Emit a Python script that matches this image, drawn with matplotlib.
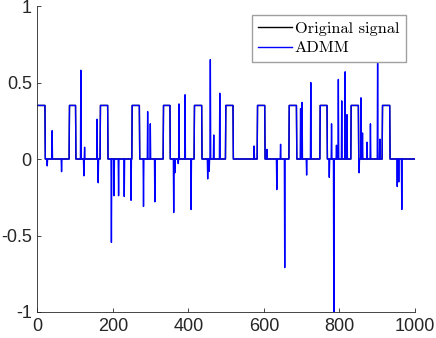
import numpy as np
import matplotlib
matplotlib.use("Agg")
import matplotlib.pyplot as plt

# ---- data ----
n_samples = 1000
block_starts = [0, 84, 166, 250, 333, 415, 498, 582, 666, 748, 830, 913]
block_ends = [20, 101, 186, 270, 351, 435, 518, 602, 686, 767, 850, 933]
block_level = 0.35

spike_idx = [26, 39, 64, 115, 123, 125, 158, 161, 196, 203, 215, 230, 248,
             281, 292, 299, 311, 361, 364, 373, 375, 391, 407, 451, 455, 458,
             467, 483, 574, 608, 634, 644, 655, 697, 701, 713, 724, 773, 779,
             785, 792, 797, 806, 815, 820, 852, 857, 861, 873, 882, 901, 907,
             953, 957, 965]
spike_val = [-0.045, 0.185, -0.083, 0.58, -0.11, 0.077, 0.26, -0.155, -0.545,
             -0.24, -0.24, -0.245, -0.27, -0.31, 0.31, 0.23, -0.28, -0.35,
             -0.09, -0.03, 0.36, 0.42, -0.33, -0.13, -0.08, 0.65, 0.157, 0.43,
             0.085, 0.063, -0.2, 0.096, -0.71, 0.33, 0.37, -0.105, 0.5, -0.12,
             0.23, -1.0, 0.09, 0.52, 0.38, 0.57, 0.29, -0.09, 0.40, 0.17, 0.11,
             0.23, 0.68, 0.13, -0.18, -0.15, -0.33]

x_ticks = [0, 200, 400, 600, 800, 1000]
y_ticks = [-1, -0.5, 0, 0.5, 1]
y_tick_labels = ['-1', '-0.5', '0', '0.5', '1']

# ---- build signals ----
x = np.arange(1, n_samples + 1)
original = np.zeros(n_samples)
for s, e in zip(block_starts, block_ends):
    original[(x > s) & (x <= e)] = block_level
admm = original.copy()
for i, v in zip(spike_idx, spike_val):
    admm[i - 1] = v

# ---- figure ----
fig = plt.figure(figsize=(4.36, 3.38), dpi=100)
ax = fig.add_axes([37.4 / 436, 1 - 312 / 338, (415 - 37.4) / 436, (312 - 6) / 338])

ax.plot(x, original, color='black', lw=1.0, label='Original signal')
ax.plot(x, admm, color='blue', lw=1.0, label='ADMM')

ax.set_xlim(0, 1000)
ax.set_ylim(-1, 1)
ax.set_xticks(x_ticks)
ax.set_xticklabels([str(t) for t in x_ticks])
ax.set_yticks(y_ticks)
ax.set_yticklabels(y_tick_labels)

for side in ['top', 'right']:
    ax.spines[side].set_visible(False)
for side in ['left', 'bottom']:
    ax.spines[side].set_color('#262626')
    ax.spines[side].set_linewidth(0.6)
ax.tick_params(direction='in', length=3, width=0.6, color='#262626',
               labelcolor='#262626', labelsize=13, pad=4)
for lbl in ax.get_xticklabels() + ax.get_yticklabels():
    lbl.set_fontfamily('Liberation Sans')

leg = ax.legend(loc='upper right', bbox_to_anchor=(406 / 436, 1 - 15 / 338),
                bbox_transform=fig.transFigure, prop={'family': 'cmr10', 'size': 11.8},
                frameon=True, fancybox=False, framealpha=1, edgecolor='#a0a0a0',
                borderaxespad=0, borderpad=0.4, handlelength=2.1,
                handletextpad=0.15, labelspacing=0.3)
leg.get_frame().set_linewidth(1.0)

fig.savefig('out.png', dpi=100)
